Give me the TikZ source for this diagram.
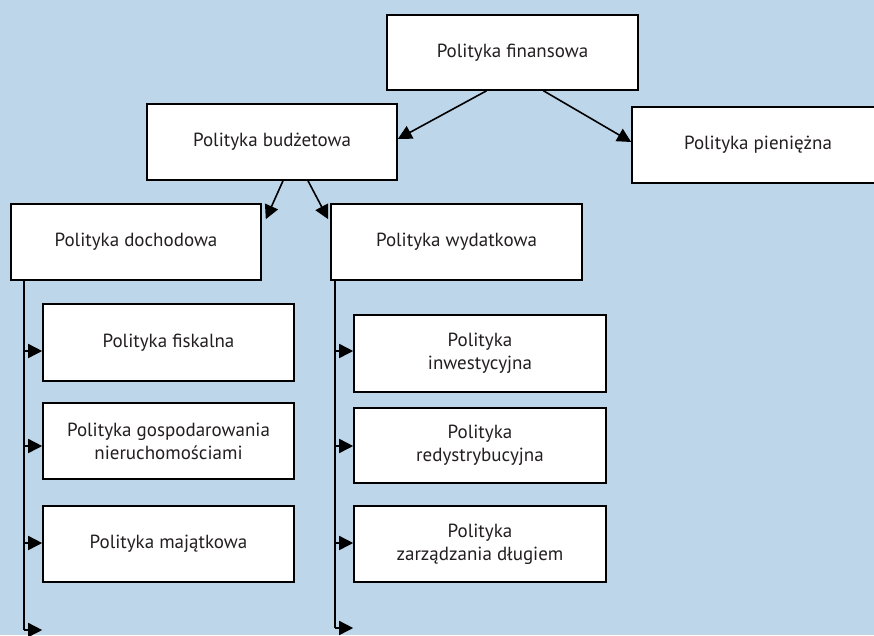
\documentclass[tikz,border=0pt]{standalone}
\usepackage{fontspec}
\setmainfont{PT Sans}
\usetikzlibrary{arrows.meta}
\definecolor{bgblue}{RGB}{190,214,234}
\definecolor{inkgrey}{RGB}{35,31,32}
\begin{document}
\begin{tikzpicture}[x=1pt,y=-1pt,
  box/.style={draw=black,fill=white,line width=1.6pt,minimum width=251pt,
    minimum height=76pt,inner sep=0pt,font=\fontsize{19}{23}\selectfont,
    text=inkgrey,align=center},
  link/.style={line width=1.6pt,-{Triangle[length=14pt,width=14pt]}},
  trunk/.style={line width=1.6pt}]
  % canvas
  \fill[bgblue] (0,0) rectangle (874,635);
  \useasboundingbox (0,0) rectangle (874,635);
  \clip (0,0) rectangle (874,635);

  % top level
  \node[box,minimum width=251pt,minimum height=75pt] (fin) at (512.5,52.5) {Polityka finansowa};
  \node[box,minimum width=250pt] (bud) at (272,142) {Polityka budżetowa};
  \node[box,minimum width=252pt] (pie) at (758,145) {Polityka pieniężna};

  % second level
  \node[box,minimum width=250pt] (doch) at (136,242) {Polityka dochodowa};
  \node[box] (wyd) at (456.5,242) {Polityka wydatkowa};

  % revenue side
  \node[box,minimum height=77pt] (fisk) at (168.5,342.5) {Polityka fiskalna};
  \node[box] (gosp) at (168.5,441) {Polityka gospodarowania\\nieruchomościami};
  \node[box] (maj) at (168.5,544) {Polityka majątkowa};

  % expenditure side
  \node[box,minimum width=252pt,minimum height=77pt] (inw) at (480,353.5) {Polityka\\inwestycyjna};
  \node[box,minimum width=252pt,minimum height=75pt] (red) at (480,445.5) {Polityka\\redystrybucyjna};
  \node[box,minimum width=252pt] (zarz) at (480,544) {Polityka\\zarządzania długiem};

  % links from the top
  \draw[link] ([xshift=-26pt]fin.south) -- ([yshift=3pt]bud.east);
  \draw[link] ([xshift=31pt]fin.south) -- ([yshift=3pt]pie.west);
  \draw[link] ([xshift=11pt]bud.south) -- ([xshift=4pt,yshift=-16pt]doch.north east);
  \draw[link] ([xshift=36pt]bud.south) -- ([xshift=-2pt,yshift=-16pt]wyd.north west);

  % revenue trunk
  \coordinate (lt) at ([xshift=14pt]doch.south west);
  \coordinate (lb) at (lt |- 0,630);
  \draw[trunk] (lt) -- (lb);
  \draw[link] (lt |- 0,351) -- (fisk.west |- 0,351);
  \draw[link] (lt |- 0,446) -- (gosp.west |- 0,446);
  \draw[link] (lt |- 0,543) -- (maj.west |- 0,543);
  \draw[link] (lb) -- (fisk.west |- lb);

  % expenditure trunk
  \coordinate (rt) at ([xshift=5pt]wyd.south west);
  \coordinate (rb) at (rt |- 0,628);
  \draw[trunk] (rt) -- (rb);
  \draw[link] (rt |- 0,351) -- (inw.west |- 0,351);
  \draw[link] (rt |- 0,446) -- (red.west |- 0,446);
  \draw[link] (rt |- 0,543) -- (zarz.west |- 0,543);
  \draw[link] (rb) -- (inw.west |- rb);
\end{tikzpicture}
\end{document}
